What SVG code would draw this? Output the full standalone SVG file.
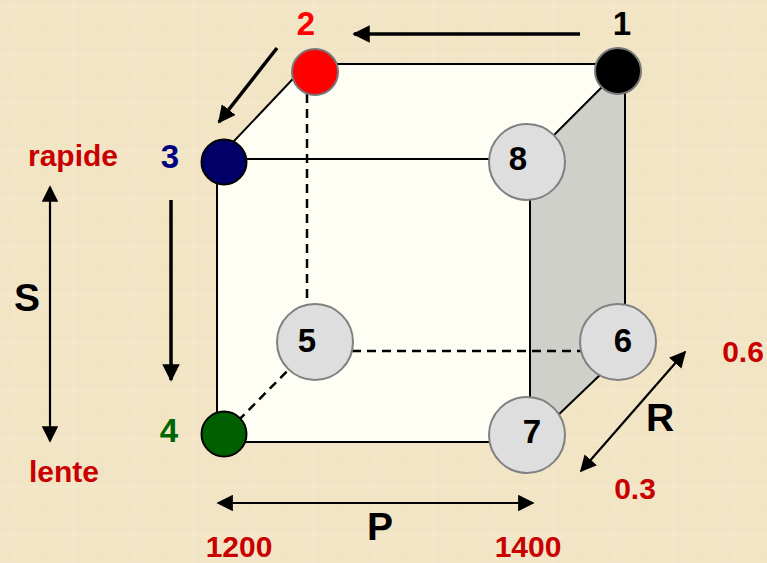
<svg xmlns="http://www.w3.org/2000/svg" width="767" height="563" viewBox="0 0 767 563">
<defs>
<style>
.edge{stroke:#000;stroke-width:2;fill:none}
.dash{stroke:#000;stroke-width:2.5;fill:none;stroke-dasharray:9 6}
.arr{stroke:#000;stroke-width:3.5;fill:none}
.arr2{stroke:#000;stroke-width:2.2;fill:none}
.small{stroke:#777;stroke-width:2}
.big{fill:#dedede;stroke:#808080;stroke-width:2}
.num{font-family:"Liberation Sans",Arial,sans-serif;font-weight:bold;font-size:33px;text-anchor:middle}
.lbl{font-family:"Liberation Sans",Arial,sans-serif;font-weight:bold;font-size:30px;fill:#c80000;text-anchor:middle}
.axis{font-family:"Liberation Sans",Arial,sans-serif;font-weight:bold;font-size:39px;fill:#000;text-anchor:middle}
</style>
<marker id="ah" viewBox="0 0 10 10" refX="9" refY="5" markerWidth="5" markerHeight="5" markerUnits="strokeWidth" orient="auto-start-reverse">
<path d="M0,0 L10,5 L0,10 z" fill="#000"/>
</marker>
<marker id="ah2" viewBox="0 0 10 10" refX="9" refY="5" markerWidth="7.5" markerHeight="7.5" markerUnits="strokeWidth" orient="auto-start-reverse">
<path d="M0,0 L10,5 L0,10 z" fill="#000"/>
</marker>
<pattern id="tex" width="60" height="48" patternUnits="userSpaceOnUse">
<rect width="60" height="48" fill="#f2e5c5"/>
<rect x="0" y="6" width="60" height="3" fill="#f5ead0" opacity="0.5"/>
<rect x="0" y="26" width="60" height="2" fill="#eee0bd" opacity="0.4"/>
<rect x="12" y="0" width="3" height="48" fill="#f5ead0" opacity="0.35"/>
<rect x="41" y="0" width="2" height="48" fill="#eee0bd" opacity="0.35"/>
</pattern>
</defs>
<rect width="767" height="563" fill="url(#tex)"/>

<g id="cube">
<polygon points="217,159 307,64 625,64 530,159" fill="#fefef4"/>
<rect x="217" y="159" width="313" height="283" fill="#fefef4"/>
<polygon points="530,159 625,64 625,351 530,442" fill="#cfd0c9"/>
</g>

<g id="connectors">
<line class="dash" x1="307" y1="64" x2="307" y2="351"/>
<line class="dash" x1="307" y1="351" x2="625" y2="351"/>
<line class="dash" x1="217" y1="442" x2="307" y2="351"/>
<line class="edge" x1="307" y1="64" x2="625" y2="64"/>
<line class="edge" x1="625" y1="64" x2="625" y2="351"/>
<line class="edge" x1="217" y1="159" x2="307" y2="64"/>
<line class="edge" x1="530" y1="159" x2="625" y2="64"/>
<line class="edge" x1="530" y1="442" x2="625" y2="351"/>
<rect class="edge" x="217" y="159" width="313" height="283"/>
<line class="arr" x1="580" y1="34" x2="354" y2="34" marker-end="url(#ah)"/>
<line class="arr" x1="277" y1="48" x2="219" y2="122" marker-end="url(#ah)"/>
<line class="arr" x1="171" y1="200" x2="171" y2="380" marker-end="url(#ah)"/>
<line class="arr2" x1="50" y1="187" x2="50" y2="441" marker-start="url(#ah2)" marker-end="url(#ah2)"/>
<line class="arr2" x1="218" y1="503" x2="533" y2="503" marker-start="url(#ah2)" marker-end="url(#ah2)"/>
<line class="arr2" x1="685" y1="352" x2="581" y2="471" marker-start="url(#ah2)" marker-end="url(#ah2)"/>
</g>

<g id="n1"><circle class="small" cx="618" cy="71" r="23" fill="#000"/><text class="num" x="622" y="35" fill="#000">1</text></g>
<g id="n2"><circle class="small" cx="315" cy="72" r="23" fill="#ff0000"/><text class="num" x="306" y="35" fill="#ff0000">2</text></g>
<g id="n3"><circle cx="224" cy="162" r="22.5" fill="#000066" stroke="#000" stroke-width="2"/><text class="num" x="170" y="168" fill="#000080">3</text></g>
<g id="n4"><circle cx="224" cy="434" r="22.5" fill="#006000" stroke="#000" stroke-width="2"/><text class="num" x="169" y="442" fill="#006600">4</text></g>
<g id="n5"><circle class="big" cx="315" cy="342" r="38"/><text class="num" x="307" y="352" fill="#000">5</text></g>
<g id="n6"><circle class="big" cx="618" cy="342" r="38"/><text class="num" x="623" y="352" fill="#000">6</text></g>
<g id="n7"><circle class="big" cx="527" cy="435" r="38"/><text class="num" x="532" y="443" fill="#000">7</text></g>
<g id="n8"><circle class="big" cx="527" cy="162" r="38"/><text class="num" x="518" y="170" fill="#000">8</text></g>

<g id="labels">
<text class="lbl" x="73" y="166">rapide</text>
<text class="lbl" x="64" y="482">lente</text>
<text class="axis" x="27" y="311">S</text>
<text class="axis" x="380" y="540">P</text>
<text class="axis" x="660" y="431">R</text>
<text class="lbl" x="743" y="362">0.6</text>
<text class="lbl" x="635" y="499">0.3</text>
<text class="lbl" x="239" y="557">1200</text>
<text class="lbl" x="528" y="557">1400</text>
</g>
</svg>
